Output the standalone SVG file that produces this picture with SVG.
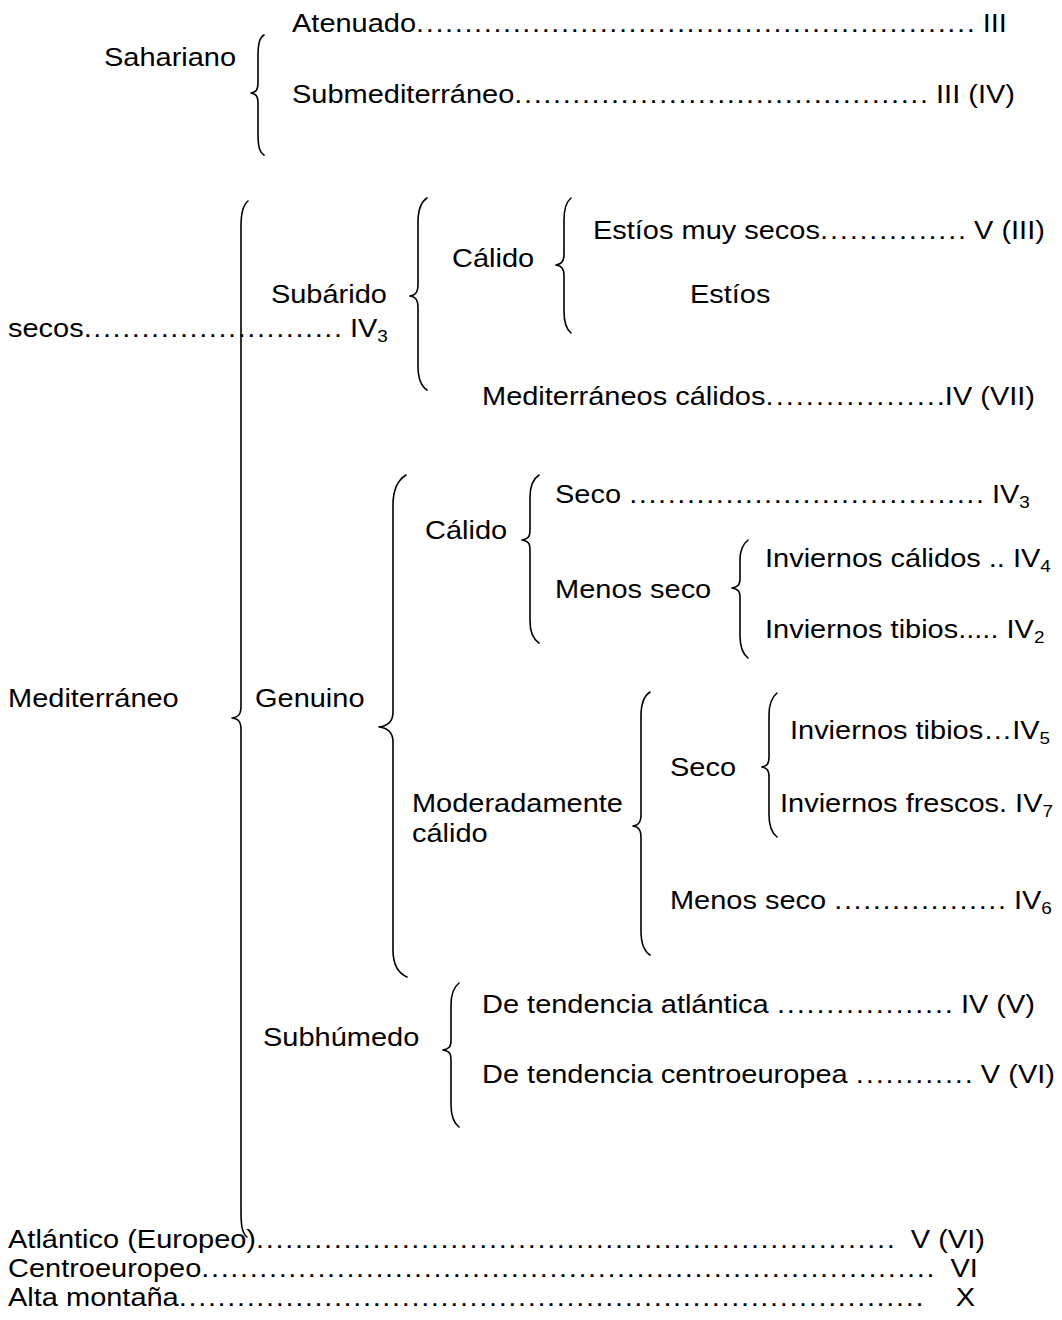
<svg xmlns="http://www.w3.org/2000/svg" width="1062" height="1320" viewBox="0 0 1062 1320" xml:space="preserve">
<style>
text { font-family: "Liberation Sans", Arial, sans-serif; font-size: 26px; fill: #000; }
.sub { font-size: 17px; }
.brace { fill: none; stroke: #000; stroke-width: 1.6; stroke-linecap: round; stroke-linejoin: round; }
</style>
<rect width="1062" height="1320" fill="#fff"/>
<g id="connectors">
<path class="brace" d="M264,35 C259,38 258,45 258,57 L258,83 C258,90 256,92 251,93 C256,94 258,96 258,103 L258,133 C258,145 259,152 264,155"/>
<path class="brace" d="M248,201 C243,205 241,213 241,226 L241,706 C241,714 239,717 232,718 C239,719 241,722 241,730 L241,1212 C241,1225 242,1233 247,1237"/>
<path class="brace" d="M427,198 C421,202 418,210 418,222 L418,284 C418,292 416,295 410,296 C416,297 418,300 418,308 L418,366 C418,378 421,386 427,390"/>
<path class="brace" d="M571,198 C566,202 564,209 564,220 L564,254 C564,261 562,264 556,265 C562,266 564,269 564,276 L564,311 C564,322 566,329 571,333"/>
<path class="brace" d="M406,475 C398,480 393,490 393,505 L393,712 C393,722 388,726 379,727 C388,728 393,732 393,742 L393,950 C393,965 398,973 407,977"/>
<path class="brace" d="M539,475 C533,479 530,486 530,497 L530,530 C530,537 528,539 522,540 C528,541 530,543 530,550 L530,621 C530,632 533,639 539,643"/>
<path class="brace" d="M748,540 C743,544 740,550 740,560 L740,578 C740,585 738,587 732,588 C738,589 740,591 740,598 L740,636 C740,647 743,654 748,658"/>
<path class="brace" d="M650,692 C644,696 641,704 641,716 L641,814 C641,822 639,825 633,826 C639,827 641,830 641,838 L641,931 C641,943 644,951 650,955"/>
<path class="brace" d="M777,693 C772,697 769,704 769,715 L769,757 C769,764 767,766 762,767 C767,768 769,770 769,777 L769,815 C769,826 772,833 777,837"/>
<path class="brace" d="M459,983 C454,987 451,994 451,1005 L451,1040 C451,1047 449,1049 443,1050 C449,1051 451,1053 451,1060 L451,1105 C451,1116 454,1123 459,1127"/>
</g>
<g id="nodes" transform="scale(1.115 1)">
<g id="n-sahariano"><text x="93.3" y="66">Sahariano</text></g>
<g id="n-atenuado"><text x="261.9" y="32">Atenuado</text><text x="373.2" y="32" textLength="501" lengthAdjust="spacing">..........................................................</text><text x="881.4" y="32">III</text></g>
<g id="n-submediterraneo"><text x="261.9" y="103">Submediterráneo</text><text x="461.3" y="103" textLength="371" lengthAdjust="spacing">...........................................</text><text x="839.5" y="103">III (IV)</text></g>
<g id="n-mediterraneo"><text x="7.2" y="707">Mediterráneo</text></g>
<g id="n-subarido"><text x="243" y="303">Subárido</text></g>
<g id="n-calido1"><text x="405.4" y="267">Cálido</text></g>
<g id="n-estios-muy-secos"><text x="531.8" y="239">Estíos muy secos</text><text x="735.5" y="239" textLength="131" lengthAdjust="spacing">...............</text><text x="873.6" y="239">V (III)</text></g>
<g id="n-estios-secos"><text x="618.8" y="303">Estíos</text><text x="7.2" y="337">secos</text><text x="75.1" y="337" textLength="231.6" lengthAdjust="spacing">...........................</text><text x="313.9" y="337">IV<tspan class="sub" dy="5">3</tspan></text></g>
<g id="n-med-calidos"><text x="432.3" y="405">Mediterráneos cálidos</text><text x="686.6" y="405" textLength="160.8" lengthAdjust="spacing">..................</text><text x="847.4" y="405">IV (VII)</text></g>
<g id="n-genuino"><text x="228.7" y="707">Genuino</text></g>
<g id="n-calido2"><text x="381.2" y="539">Cálido</text></g>
<g id="n-seco1"><text x="497.8" y="503">Seco</text><text x="564.3" y="503" textLength="318.2" lengthAdjust="spacing">.....................................</text><text x="889.7" y="503">IV<tspan class="sub" dy="5">3</tspan></text></g>
<g id="n-menos-seco1"><text x="497.8" y="598">Menos seco</text></g>
<g id="n-inv-calidos"><text x="686.1" y="567">Inviernos cálidos .. IV<tspan class="sub" dy="5">4</tspan></text></g>
<g id="n-inv-tibios1"><text x="686.1" y="638">Inviernos tibios.....  IV<tspan class="sub" dy="5">2</tspan></text></g>
<g id="n-moderado"><text x="369.5" y="812">Moderadamente</text><text x="369.5" y="842">cálido</text></g>
<g id="n-seco2"><text x="600.9" y="776">Seco</text></g>
<g id="n-inv-tibios2"><text x="708.5" y="739">Inviernos tibios…IV<tspan class="sub" dy="5">5</tspan></text></g>
<g id="n-inv-frescos"><text x="699.6" y="812">Inviernos frescos. IV<tspan class="sub" dy="5">7</tspan></text></g>
<g id="n-menos-seco2"><text x="600.9" y="909">Menos seco</text><text x="748.3" y="909" textLength="153.9" lengthAdjust="spacing">..................</text><text x="909.4" y="909">IV<tspan class="sub" dy="5">6</tspan></text></g>
<g id="n-subhumedo"><text x="235.9" y="1046">Subhúmedo</text></g>
<g id="n-atlantica"><text x="432.3" y="1013">De tendencia atlántica</text><text x="696.8" y="1013" textLength="157.8" lengthAdjust="spacing">..................</text><text x="861.8" y="1013">IV (V)</text></g>
<g id="n-centroeuropea"><text x="432.3" y="1083">De tendencia centroeuropea</text><text x="767.6" y="1083" textLength="104.9" lengthAdjust="spacing">............</text><text x="879.7" y="1083">V (VI)</text></g>
<g id="n-atlantico"><text x="7.2" y="1248">Atlántico (Europeo)</text><text x="229.7" y="1248" textLength="572.8" lengthAdjust="spacing">..................................................................</text><text x="816.9" y="1248">V (VI)</text></g>
<g id="n-centroeuropeo"><text x="7.2" y="1277">Centroeuropeo</text><text x="180.6" y="1277" textLength="657.5" lengthAdjust="spacing">............................................................................</text><text x="852.5" y="1277">VI</text></g>
<g id="n-alta-montana"><text x="7.2" y="1306">Alta montaña</text><text x="160.4" y="1306" textLength="667.8" lengthAdjust="spacing">.............................................................................</text><text x="857.1" y="1306">X</text></g>
</g>
</svg>
